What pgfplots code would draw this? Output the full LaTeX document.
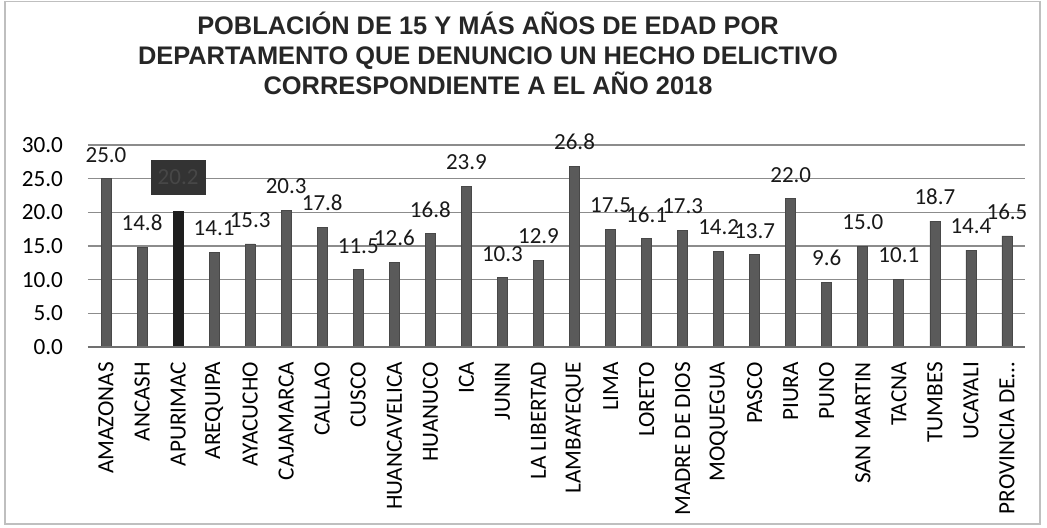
\documentclass[border=0pt]{standalone}
\usepackage{pgfplots}
\pgfplotsset{compat=1.18}
\usepackage{fontspec}
\setmainfont{Carlito}
\newfontfamily\titlefont{Liberation Sans}

\definecolor{barfill}{HTML}{5A5A5A}
\definecolor{barhi}{HTML}{1E1E1E}
\definecolor{boxfill}{HTML}{333333}
\definecolor{gridc}{HTML}{8C8C8C}

% departamento, valor (APURIMAC aparte)
\pgfplotstableread{
x y
0 25.0
1 14.8
3 14.1
4 15.3
5 20.3
6 17.8
7 11.5
8 12.6
9 16.8
10 23.9
11 10.3
12 12.9
13 26.8
14 17.5
15 16.1
16 17.3
17 14.2
18 13.7
19 22.0
20 9.6
21 15.0
22 10.1
23 18.7
24 14.4
25 16.5
}\deptos

\begin{document}
\begin{tikzpicture}
\useasboundingbox (-44pt,-90pt) rectangle (479.5pt,173.5pt);
\draw[gray!50, line width=0.8pt] (-41.5pt,-88.5pt) rectangle (476pt,172.8pt);

\node[align=center, font=\titlefont\bfseries\fontsize{12.7}{15}\selectfont, text=black!85]
  at (200pt,147pt) {POBLACIÓN DE 15 Y MÁS AÑOS DE EDAD POR\\
  DEPARTAMENTO QUE DENUNCIO UN HECHO DELICTIVO\\
  CORRESPONDIENTE A EL AÑO 2018};

\begin{axis}[
  at={(0pt,0pt)}, anchor=south west,
  scale only axis, width=468.5pt, height=101pt,
  xmin=-0.5, xmax=25.5, ymin=0, ymax=30,
  ytick={0,5,...,30},
  xtick={0,...,25},
  xticklabels={AMAZONAS,ANCASH,APURIMAC,AREQUIPA,AYACUCHO,CAJAMARCA,CALLAO,CUSCO,HUANCAVELICA,HUANUCO,ICA,JUNIN,LA LIBERTAD,LAMBAYEQUE,LIMA,LORETO,MADRE DE DIOS,MOQUEGUA,PASCO,PIURA,PUNO,SAN MARTIN,TACNA,TUMBES,UCAYALI,PROVINCIA DE…},
  x tick label style={rotate=90, anchor=east, font=\fontsize{11.6}{13}\selectfont, xshift=-4pt},
  y tick label style={font=\fontsize{11.6}{13}\selectfont, xshift=-9pt},
  yticklabel={\pgfmathprintnumber[fixed,fixed zerofill,precision=1,assume math mode=true]{\tick}},
  major tick length=0pt,
  axis line style={draw=none},
  ymajorgrids, grid style={gridc, line width=0.7pt},
  clip=false,
  ybar, bar width=5pt, bar shift=0pt,
  nodes near coords={\pgfmathprintnumber[fixed,fixed zerofill,precision=1,assume math mode=true]{\pgfplotspointmeta}},
  every node near coord/.append style={font=\fontsize{11.5}{13}\selectfont, anchor=south, inner sep=0pt, yshift=8pt, text=black!90},
]
\addplot[fill=barfill, draw=barfill!80!black] table[x=x,y=y] {\deptos};
\addplot[fill=barhi, draw=barhi,
  every node near coord/.append style={fill=boxfill, text=boxfill!90!white, minimum width=27.5pt, minimum height=17.5pt, yshift=0pt}]
  coordinates {(2,20.2)};
\draw[gridc!80!black, line width=0.8pt] (axis cs:-0.5,0) -- (axis cs:25.5,0);
\end{axis}
\end{tikzpicture}
\end{document}
